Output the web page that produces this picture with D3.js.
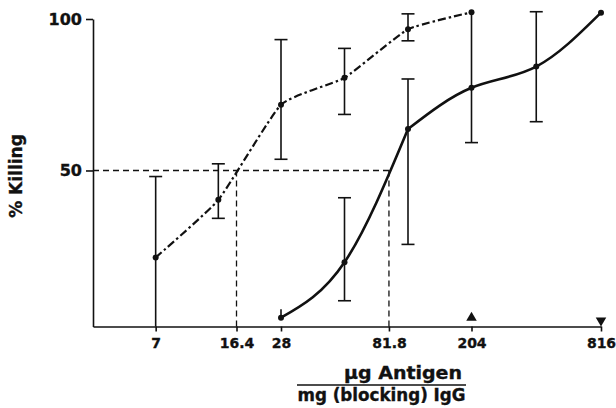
<!DOCTYPE html>
<html>
<head>
<meta charset="utf-8">
<script src="https://cdn.jsdelivr.net/npm/d3@7/dist/d3.min.js"></script>
<style>
html,body{margin:0;padding:0;background:#fff;}
svg{display:block;}
text{font-family:"DejaVu Sans",sans-serif;font-weight:bold;fill:#111;stroke:#111;stroke-width:0.35px;}
</style>
</head>
<body>
<svg id="chart" width="616" height="408"></svg>
<script>
// ---- data (x = dilution step position on the axis) ----
const tickLabels = ["7", "16.4", "28", "81.8", "204", "816"];
const tickSteps  = [0, 1.29, 2, 3.7, 5, 7];
const yTicks = [50, 100];

// dash-dot series
const seriesAX    = [0, 1, 2, 3, 4, 5];
const seriesAY    = [21.3, 40.3, 71.7, 80.6, 96.6, 102.2];
const seriesALow  = [-1.5, 34.2, 53.7, 68.5, 92.8, null];
const seriesAHigh = [48.0, 52.2, 93.2, 90.3, 101.7, null];
const seriesALowCap = [false, true, true, true, true, false];

// solid series
const seriesBX    = [2, 3, 4, 5, 6, 7];
const seriesBY    = [1.4, 19.7, 63.7, 77.3, 84.3, 102.1];
const seriesBLow  = [1.4, 7.0, 25.6, 59.2, 66.1, null];
const seriesBHigh = [4.2, 41.0, 80.2, 102.2, 102.4, null];
const seriesBHighCap = [false, true, true, false, true, false];

// 50% reference
const refLevel = 50;
const refSteps = [1.29, 3.7];

// triangle markers
const markerSteps = [5, 7];
const markerVals  = [1.4, 0.5];
const markerTypes = ["up", "down"];

// ---- drawing ----
const svg = d3.select("#chart");
const x = d3.scaleLinear().domain([-1, 2, 5, 7]).range([93, 281, 471.5, 601]);
const y = d3.scaleLinear().domain([-1.5, 100]).range([326.5, 19]);

// axes
const yAxis = d3.axisLeft(y).tickValues(yTicks).tickSize(7).tickSizeOuter(0).tickPadding(4).tickFormat(d3.format("d"));
const gy = svg.append("g").attr("transform", "translate(93,0)").call(yAxis);
gy.selectAll("text").style("font-size", "16px").attr("fill", "#111");
gy.selectAll("path,line").attr("stroke", "#111").attr("stroke-width", 1.6);

const xAxis = d3.axisBottom(x).tickValues(tickSteps).tickSize(5).tickSizeOuter(0).tickPadding(7)
  .tickFormat((d, i) => tickLabels[i]);
const gx = svg.append("g").attr("transform", "translate(0," + y(-1.5) + ")").call(xAxis);
gx.selectAll("text").style("font-size", "14px").attr("fill", "#111");
gx.selectAll("path,line").attr("stroke", "#111").attr("stroke-width", 1.6);

// reference dashed lines
const dash = "6,4";
svg.append("line").attr("x1", x(-1)).attr("x2", x(refSteps[1])).attr("y1", y(refLevel)).attr("y2", y(refLevel))
  .attr("stroke", "#111").attr("stroke-width", 1.3).attr("stroke-dasharray", dash);
refSteps.forEach(s => {
  svg.append("line").attr("x1", x(s)).attr("x2", x(s)).attr("y1", y(refLevel)).attr("y2", y(-1.5))
    .attr("stroke", "#111").attr("stroke-width", 1.3).attr("stroke-dasharray", dash);
});

// error bars
function errorBars(xs, lows, highs, lowCap, highCap) {
  xs.forEach((s, i) => {
    if (lows[i] == null) return;
    const cx = x(s);
    svg.append("line").attr("x1", cx).attr("x2", cx).attr("y1", y(lows[i])).attr("y2", y(highs[i]))
      .attr("stroke", "#111").attr("stroke-width", 1.6);
    if (lowCap[i]) svg.append("line").attr("x1", cx - 6.5).attr("x2", cx + 6.5).attr("y1", y(lows[i])).attr("y2", y(lows[i]))
      .attr("stroke", "#111").attr("stroke-width", 1.6);
    if (highCap[i]) svg.append("line").attr("x1", cx - 6.5).attr("x2", cx + 6.5).attr("y1", y(highs[i])).attr("y2", y(highs[i]))
      .attr("stroke", "#111").attr("stroke-width", 1.6);
  });
}
errorBars(seriesAX, seriesALow, seriesAHigh, seriesALowCap, [true, true, true, true, true, false]);
errorBars(seriesBX, seriesBLow, seriesBHigh, [false, true, true, true, true, false], seriesBHighCap);

// lines
const dataA = seriesAX.map((s, i) => [s, seriesAY[i]]);
const dataB = seriesBX.map((s, i) => [s, seriesBY[i]]);
const lineA = d3.line().x(d => x(d[0])).y(d => y(d[1])).curve(d3.curveCardinal.tension(0.55));
const lineB = d3.line().x(d => x(d[0])).y(d => y(d[1])).curve(d3.curveNatural);
svg.append("path").attr("d", lineA(dataA)).attr("fill", "none").attr("stroke", "#111")
  .attr("stroke-width", 2.2).attr("stroke-dasharray", "8,3,2.5,3");
// solid curve: rising limb up to the inflection point, then the plateau limb
svg.append("path").attr("d", lineB(dataB.slice(0, 3))).attr("fill", "none").attr("stroke", "#111")
  .attr("stroke-width", 2.6).attr("stroke-linejoin", "round");
svg.append("path").attr("d", lineB(dataB.slice(2))).attr("fill", "none").attr("stroke", "#111")
  .attr("stroke-width", 2.6).attr("stroke-linejoin", "round");

// dots
[dataA, dataB].forEach(data => {
  svg.selectAll(null).data(data).enter().append("circle")
    .attr("cx", d => x(d[0])).attr("cy", d => y(d[1])).attr("r", 3).attr("fill", "#111");
});

// triangle markers
markerSteps.forEach((s, i) => {
  svg.append("path").attr("d", d3.symbol(d3.symbolTriangle, 48)())
    .attr("transform", "translate(" + x(s) + "," + y(markerVals[i]) + ")" + (markerTypes[i] === "down" ? " rotate(180)" : ""))
    .attr("fill", "#111");
});

// axis titles
svg.append("text").attr("transform", "translate(22,176) rotate(-90)").attr("text-anchor", "middle")
  .style("font-size", "17px").text("% Killing");
svg.append("text").attr("x", 403).attr("y", 379).attr("text-anchor", "middle").style("font-size", "17px")
  .attr("textLength", 118).attr("lengthAdjust", "spacingAndGlyphs").text("µg Antigen");
svg.append("line").attr("x1", 297).attr("x2", 466).attr("y1", 385).attr("y2", 385).attr("stroke", "#111").attr("stroke-width", 1.6);
svg.append("text").attr("x", 381.5).attr("y", 400.5).attr("text-anchor", "middle").style("font-size", "17px")
  .attr("textLength", 168).attr("lengthAdjust", "spacingAndGlyphs").text("mg (blocking) IgG");
</script>
</body>
</html>
